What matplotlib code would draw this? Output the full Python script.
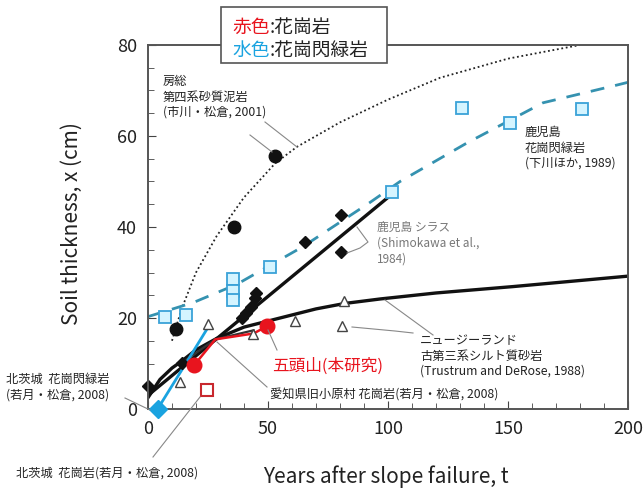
import matplotlib
matplotlib.use("Agg")
import matplotlib.pyplot as plt
from matplotlib.lines import Line2D
from matplotlib.patches import Rectangle

plt.rcParams["font.family"] = ["Noto Sans CJK JP", "DejaVu Sans"]

W, H = 644, 490

# ── data (years, cm) ──────────────────────────────────────────────
# 房総 第四系砂質泥岩 curve and points
boso_t = [10, 14, 20, 28.6, 40, 53, 62, 80, 100, 121.7, 150, 180]
boso_x = [15, 22, 30, 38, 46.5, 54, 57.6, 63, 68, 72.8, 77, 80]
boso_pt_t = [11.7, 36, 53]
boso_pt_x = [17.5, 40, 55.7]

# 鹿児島 花崗閃緑岩 curve and points
kago_t = [0, 18.9, 37, 64.6, 92.5, 105, 133, 164.6, 195.4, 200]
kago_x = [20.3, 23.4, 27.4, 35.7, 45.4, 50, 58.5, 67.3, 71.2, 71.8]
kago_pt_t = [7, 16, 35.5, 35.5, 35.5, 51, 101.5, 131, 151, 181]
kago_pt_x = [20.2, 20.6, 28.5, 25.9, 23.9, 31.1, 47.8, 66.2, 62.9, 66]

# 鹿児島 シラス line and points
shirasu_t = [0, 100]
shirasu_x = [3, 46.5]
shirasu_pt_t = [0, 14, 39, 41, 43, 44.6, 45, 65.4, 80.4, 80.4]
shirasu_pt_x = [5, 10.1, 20, 21, 22.4, 24.4, 25.6, 36.6, 42.7, 34.4]

# ニュージーランド 古第三系 curve and points
nz_t = [0, 5, 10, 14, 20, 28.6, 40, 55, 70, 82, 97, 120, 152, 200]
nz_x = [2.5, 6.5, 9, 10.5, 13, 15.5, 18, 20, 22, 23.2, 24.2, 25.5, 26.9, 29.2]
nz_pt_t = [13.5, 24.8, 43.8, 61.3, 81.8, 81]
nz_pt_x = [6, 18.7, 16.5, 19.3, 23.7, 18.2]

# 愛知県旧小原村 花崗岩
aichi_t = [14, 28, 44]
aichi_x = [10.1, 15.3, 17.3]

# 五頭山 (本研究)
gozu_t = [19.2, 28, 44, 49.6]
gozu_x = [9.6, 15.3, 16.6, 18.2]
gozu_pt_t = [19.2, 49.6]
gozu_pt_x = [9.6, 18.2]

# 北茨城 花崗閃緑岩 / 花崗岩
kita_gd_t = [4, 14, 24.5]
kita_gd_x = [0, 8.5, 17.5]
kita_gr_t = [24.6]
kita_gr_x = [4.2]

RED = "#e8141e"
CYAN = "#1aa3e0"
TEAL = "#3592b0"


def fpos(x, y):
    """pixel position -> figure fraction"""
    return x / W, 1 - y / H


fig = plt.figure(figsize=(W / 100, H / 100), dpi=100)
ax = fig.add_axes([148 / W, 1 - 409 / H, 480 / W, 364 / H])

ax.plot(boso_t, boso_x, ls=(0, (1, 1.5)), color="#222", lw=1.3)
ax.plot(kago_t, kago_x, ls=(0, (5, 4)), color=TEAL, lw=2)
ax.plot(shirasu_t, shirasu_x, color="#111", lw=2.4)
ax.plot(nz_t, nz_x, color="#111", lw=2.4)
ax.plot(aichi_t, aichi_x, color="#333", lw=1.6)
ax.plot(gozu_t, gozu_x, color=RED, lw=1.8)
ax.plot(kita_gd_t, kita_gd_x, color=CYAN, lw=2)

ax.plot(kago_pt_t, kago_pt_x, "s", ms=8.5, mfc="#d4f4ff", mec="#3aa2d8", mew=1.3, ls="none")
ax.plot(nz_pt_t, nz_pt_x, "^", ms=7, mfc="white", mec="#444", mew=1.0, ls="none")
ax.plot(shirasu_pt_t, shirasu_pt_x, "D", ms=6, color="#111", ls="none", clip_on=False)
ax.plot(boso_pt_t, boso_pt_x, "o", ms=9, color="#111", ls="none")
ax.plot(gozu_pt_t, gozu_pt_x, "o", ms=10.5, color=RED, ls="none")
ax.plot(kita_gr_t, kita_gr_x, "s", ms=8.5, mfc="white", mec="#c8282e", mew=1.5, ls="none")
ax.plot(kita_gd_t[:1], kita_gd_x[:1], "D", ms=9, color=CYAN, ls="none", clip_on=False, zorder=5)

ax.set_xlim(0, 200)
ax.set_ylim(0, 80)
ax.set_xticks([0, 50, 100, 150, 200])
ax.set_xticks(range(0, 201, 10), minor=True)
ax.set_yticks([0, 20, 40, 60, 80])
ax.set_yticks(range(0, 81, 5), minor=True)
ax.tick_params(which="both", direction="in", top=False, right=False,
               colors="#444", labelcolor="#222")
ax.tick_params(which="major", length=6, labelsize=13, pad=8)
ax.tick_params(which="minor", length=4)
for s in ax.spines.values():
    s.set_color("#555")
    s.set_linewidth(1.4)

# axis titles
fig.text(*fpos(386, 477), "Years after slope failure, t", fontsize=15,
         color="#222", ha="center", va="center")
fig.text(*fpos(72, 224), "Soil thickness, x (cm)", fontsize=15, color="#222",
         ha="center", va="center", rotation=90)

# legend box for rock colours
box = Rectangle(fpos(221, 63), 166 / W, 56 / H, transform=fig.transFigure,
                facecolor="white", edgecolor="#555", lw=1.2, zorder=10)
fig.add_artist(box)
fs_leg = 13.5
for y, key, col, rock in [(27, "赤色", RED, "花崗岩"), (50, "水色", CYAN, "花崗閃緑岩")]:
    fig.text(*fpos(232, y), key, color=col, fontsize=fs_leg, va="center", zorder=11)
    fig.text(*fpos(270, y), ":" + rock, color="#222", fontsize=fs_leg, va="center", zorder=11)

# annotations
small = dict(fontsize=8.8, color="#222", va="center", linespacing=1.25)
fig.text(*fpos(163, 97), "房総\n第四系砂質泥岩\n(市川・松倉, 2001)", **small)
fig.text(*fpos(525, 148), "鹿児島\n花崗閃緑岩\n(下川ほか, 1989)", **small)
fig.text(*fpos(377, 243), "鹿児島 シラス\n(Shimokawa et al.,\n1984)",
         fontsize=8.5, color="#777", va="center", linespacing=1.3)
fig.text(*fpos(420, 356), "ニュージーランド\n古第三系シルト質砂岩\n(Trustrum and DeRose, 1988)", **small)
fig.text(*fpos(272, 366), "五頭山(本研究)", fontsize=12, color=RED, va="center")
fig.text(*fpos(270, 395), "愛知県旧小原村 花崗岩(若月・松倉, 2008)", **small)
fig.text(*fpos(6, 387), "北茨城  花崗閃緑岩\n(若月・松倉, 2008)", **small)
fig.text(*fpos(16, 473), "北茨城  花崗岩(若月・松倉, 2008)", **small)

leaders = [
    [(265, 122), (297, 147)],
    [(250, 135), (272, 152)],
    [(357, 227), (368, 242), (360, 248), (347, 253)],
    [(385, 300), (433, 335)],
    [(352, 327), (395, 331), (413, 333)],
    [(268, 330), (277, 350)],
    [(217, 342), (267, 387)],
    [(125, 398), (150, 410)],
    [(153, 457), (200, 397)],
]
for pts in leaders:
    xs = [fpos(*p)[0] for p in pts]
    ys = [fpos(*p)[1] for p in pts]
    fig.add_artist(Line2D(xs, ys, transform=fig.transFigure, color="#888", lw=0.8))

fig.savefig("out.png", dpi=100)
